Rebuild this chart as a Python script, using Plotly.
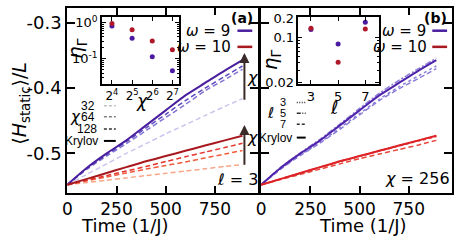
import plotly.graph_objects as go

W, H = 457, 241

# ---------------- data ----------------
time = [0, 100, 200, 300, 400, 500, 600, 700, 800, 890]

# panel (a), l = 3, omega = 9
a_w9_krylov = [-0.548, -0.522, -0.500, -0.480, -0.457, -0.434, -0.411, -0.392, -0.373, -0.357]
a_w9_chi128 = [-0.548, -0.523, -0.502, -0.482, -0.461, -0.440, -0.419, -0.400, -0.382, -0.366]
a_w9_chi64 = [-0.548, -0.524, -0.504, -0.485, -0.465, -0.445, -0.425, -0.404, -0.387, -0.371]
a_w9_chi32 = [-0.548, -0.532, -0.516, -0.500, -0.485, -0.470, -0.456, -0.442, -0.428, -0.416]
# panel (a), omega = 10
a_w10_krylov = [-0.548, -0.539, -0.530, -0.521, -0.512, -0.504, -0.496, -0.488, -0.480, -0.473]
a_w10_chi128 = [-0.548, -0.541, -0.534, -0.527, -0.520, -0.5125, -0.505, -0.498, -0.491, -0.4845]
a_w10_chi64 = [-0.548, -0.542, -0.536, -0.530, -0.524, -0.5185, -0.513, -0.507, -0.501, -0.4955]
a_w10_chi32 = [-0.548, -0.5445, -0.541, -0.5375, -0.534, -0.5305, -0.527, -0.5235, -0.520, -0.517]

# panel (b), chi = 256, omega = 9
b_w9_krylov = [-0.548, -0.522, -0.500, -0.480, -0.457, -0.434, -0.411, -0.392, -0.373, -0.357]
b_w9_l3 = [-0.548, -0.523, -0.502, -0.483, -0.461, -0.439, -0.417, -0.398, -0.381, -0.366]
b_w9_l5 = [-0.548, -0.521, -0.499, -0.478, -0.455, -0.431, -0.408, -0.388, -0.370, -0.354]
b_w9_l7 = [-0.548, -0.524, -0.503, -0.484, -0.463, -0.441, -0.419, -0.401, -0.385, -0.370]
# panel (b), omega = 10
b_w10_krylov = [-0.548, -0.539, -0.530, -0.521, -0.512, -0.504, -0.496, -0.488, -0.480, -0.473]
b_w10_l3 = [-0.548, -0.539, -0.530, -0.5215, -0.5125, -0.5045, -0.4965, -0.4885, -0.481, -0.474]
b_w10_l5 = [-0.548, -0.539, -0.530, -0.521, -0.512, -0.504, -0.496, -0.488, -0.480, -0.4725]
b_w10_l7 = [-0.548, -0.540, -0.532, -0.524, -0.516, -0.508, -0.501, -0.494, -0.487, -0.480]

# inset (a): eta_Gamma vs chi
inset_chi = [16, 32, 64, 128]
inset_a_w9 = [0.81, 0.37, 0.114, 0.046]
inset_a_w10 = [0.95, 0.63, 0.31, 0.178]

# inset (b): eta_Gamma vs l
inset_l = [3, 5, 7]
inset_b_w9 = [0.134, 0.079, 0.174]
inset_b_w10 = [0.140, 0.041, 0.136]

x_ticks = [0, 250, 500, 750]
y_ticks = [-0.3, -0.4, -0.5]
y_ticktext = ["-0.3", "-0.4", "-0.5"]

# ---------------- styles ----------------
FONT = "DejaVu Sans"
SMALL = "Liberation Sans"
P9 = "#4a1f9e"
P9_128 = "#5b48c0"
P9_64 = "#7f74d0"
P9_32 = "#cbc5ee"
R10 = "#a8191f"
R10_128 = "#e4312a"
R10_64 = "#f0593a"
R10_32 = "#f7a688"
PB = "#5024aa"
PB_L = "#8a7ed8"
RB = "#dc2328"
RB_L = "#e8463a"
DASH = "5px,3px"


def px(x):
    return x / W


def py(y):
    return 1 - y / H


fig = go.Figure()


def line(x, y, color, width, dash, xa, ya):
    fig.add_trace(go.Scatter(x=x, y=y, mode="lines", xaxis=xa, yaxis=ya,
                             line=dict(color=color, width=width, dash=dash, shape="spline", smoothing=0.6),
                             showlegend=False, hoverinfo="skip"))


# panel (a)
line(time, a_w9_chi32, P9_32, 1.5, DASH, "x", "y")
line(time, a_w9_chi64, P9_64, 1.5, DASH, "x", "y")
line(time, a_w9_chi128, P9_128, 1.5, DASH, "x", "y")
line(time, a_w9_krylov, P9, 2, "solid", "x", "y")
line(time, a_w10_chi32, R10_32, 1.5, DASH, "x", "y")
line(time, a_w10_chi64, R10_64, 1.5, DASH, "x", "y")
line(time, a_w10_chi128, R10_128, 1.5, DASH, "x", "y")
line(time, a_w10_krylov, R10, 2, "solid", "x", "y")

# panel (b)
line(time, b_w9_l3, PB_L, 1.5, "dot", "x2", "y2")
line(time, b_w9_l5, PB_L, 1.5, "6px,2px,2px,2px", "x2", "y2")
line(time, b_w9_l7, PB_L, 1.5, DASH, "x2", "y2")
line(time, b_w9_krylov, PB, 2, "solid", "x2", "y2")
line(time, b_w10_l3, RB_L, 1.5, "dot", "x2", "y2")
line(time, b_w10_l5, RB_L, 1.5, "6px,2px,2px,2px", "x2", "y2")
line(time, b_w10_l7, RB_L, 1.5, DASH, "x2", "y2")
line(time, b_w10_krylov, RB, 2, "solid", "x2", "y2")

# insets
for xs, ys, c, xa, ya in [(inset_chi, inset_a_w9, "#4a1aa0", "x3", "y3"),
                          (inset_chi, inset_a_w10, "#b0182a", "x3", "y3"),
                          (inset_l, inset_b_w9, "#4a1aa0", "x4", "y4"),
                          (inset_l, inset_b_w10, "#b0182a", "x4", "y4")]:
    fig.add_trace(go.Scatter(x=xs, y=ys, mode="markers", xaxis=xa, yaxis=ya,
                             marker=dict(color=c, size=5), showlegend=False, hoverinfo="skip"))

main_x = dict(range=[0, 970], tickvals=x_ticks, ticks="inside", ticklen=7, tickwidth=1.5,
              showline=True, linecolor="black", linewidth=2, mirror="ticks", showgrid=False,
              zeroline=False, tickfont=dict(family=FONT, size=17, color="black"), tickcolor="black")
main_y = dict(range=[-0.5605, -0.277], tickvals=y_ticks, ticktext=y_ticktext, ticks="inside",
              ticklen=8, tickwidth=1.5, showline=True, linecolor="black", linewidth=2, mirror="ticks",
              showgrid=False, zeroline=False, tickfont=dict(family=FONT, size=18, color="black"),
              tickcolor="black")

inset_common = dict(showline=True, linecolor="black", linewidth=1.5, mirror="ticks", ticks="inside",
                    ticklen=4, tickwidth=1, tickcolor="black", showgrid=False, zeroline=False,
                    tickfont=dict(family=FONT, size=13, color="black"))

fig.update_layout(
    width=W, height=H, margin=dict(l=0, r=0, t=0, b=0),
    paper_bgcolor="white", plot_bgcolor="white",
    xaxis=dict(domain=[px(63), px(256)], anchor="y", **main_x),
    yaxis=dict(domain=[py(196.7), py(2)], anchor="x", **main_y),
    xaxis2=dict(domain=[px(259), px(452)], anchor="y2", **main_x),
    yaxis2=dict(domain=[py(196.7), py(2)], anchor="x2", **{**main_y, "showticklabels": False}),
    xaxis3=dict(domain=[px(98), px(176)], anchor="y3", type="log",
                range=[1.054, 2.207], tickvals=[16, 32, 64, 128],
                ticktext=["2<sup>4</sup>", "2<sup>5</sup>", "2<sup>6</sup>", "2<sup>7</sup>"],
                **{**inset_common, "tickfont": dict(family=FONT, size=12, color="black")}),
    yaxis3=dict(domain=[py(82), py(11.7)], anchor="x3", type="log", range=[-1.70, 0.153],
                tickvals=[1, 0.1], ticktext=["10<sup>0</sup>", "10<sup>-1</sup>"],
                minor=dict(ticks="inside", ticklen=2, tickcolor="black",
                           tickvals=[0.02, 0.03, 0.04, 0.05, 0.06, 0.07, 0.08, 0.09,
                                     0.2, 0.3, 0.4, 0.5, 0.6, 0.7, 0.8, 0.9]),
                **inset_common),
    xaxis4=dict(domain=[px(296.7), px(378.3)], anchor="y4", range=[2.08, 8.02],
                tickvals=[3, 5, 7], **inset_common),
    yaxis4=dict(domain=[py(81.7), py(12)], anchor="x4", type="log", range=[-1.723, -0.684],
                tickvals=[0.2, 0.1, 0.02], ticktext=["0.2", "0.1", "0.02"],
                minor=dict(ticks="inside", ticklen=2, tickcolor="black",
                           tickvals=[0.03, 0.04, 0.05, 0.06, 0.07, 0.08, 0.09]),
                **inset_common),
)

annotations = []


def ann(x, y, text, size, xanchor="center", textangle=0, family=FONT):
    annotations.append(dict(x=px(x), y=py(y), xref="paper", yref="paper", text=text,
                            showarrow=False, xanchor=xanchor, yanchor="middle", textangle=textangle,
                            font=dict(family=family, size=size, color="black")))


# axis titles
ann(16, 102, "⟨<i>H</i><sub>static</sub>⟩/<i>L</i>", 19, textangle=-90)
ann(121, 231, "Time (1/J)", 18)
ann(362, 231, "Time (1/J)", 18)
ann(72, 45, "<i>η</i><sub>Γ</sub>", 20, textangle=-90)
ann(269, 57, "<i>η</i><sub>Γ</sub>", 20, textangle=-90)
ann(139, 100, "<i>χ</i>", 17)
ann(333, 107, "<i>ℓ</i>", 18)

# panel labels + omega legends
ann(240, 13, "<b>(a)</b>", 14)
ann(435, 13, "<b>(b)</b>", 14)
for xr in [230, 428]:
    ann(xr, 26, "<i>ω</i> = 9", 15, xanchor="right")
    ann(xr + 1, 43, "<i>ω</i> = 10", 15, xanchor="right")

shapes = []


def seg(x0, x1, y, color, width, dash="solid"):
    shapes.append(dict(type="line", xref="paper", yref="paper", x0=px(x0), x1=px(x1),
                       y0=py(y), y1=py(y), line=dict(color=color, width=width, dash=dash)))


seg(235, 250, 26, P9, 2.5)
seg(235, 250, 43, R10, 2.5)
seg(432, 447, 26, P9, 2.5)
seg(432, 447, 43, R10, 2.5)

# chi legend (a)
ann(93, 105, "32", 12, xanchor="right", family=SMALL)
ann(93, 116.5, "64", 12, xanchor="right", family=SMALL)
ann(95, 129.5, "128", 12, xanchor="right", family=SMALL)
ann(96, 142, "Krylov", 12, xanchor="right", family=SMALL)
ann(71, 116.5, "<i>χ</i>", 15)
seg(100, 112, 105, "#c0c0c0", 1.5, "3px,2px")
seg(100, 112, 116.5, "#808080", 1.5, "3px,2px")
seg(100, 112, 129.5, "#303030", 1.5, "3px,2px")
seg(100, 112, 142, "black", 2)

# l legend (b)
ann(281, 101.5, "3", 11, family=SMALL)
ann(281, 113, "5", 11, family=SMALL)
ann(281, 124.5, "7", 11, family=SMALL)
ann(292, 138.5, "Krylov", 12, xanchor="right", family=SMALL)
ann(268, 113, "<i>ℓ</i>", 15)
seg(295, 304, 101.5, "#303030", 1.5, "1px,1.5px")
seg(295, 304, 113, "#303030", 1.5, "4px,1.5px,1px,1.5px")
seg(295, 304, 124.5, "#303030", 1.5, "3px,2px")
seg(295, 304, 138.5, "black", 2)

# other labels
ann(250, 75, "<i>χ</i>", 16)
ann(250, 138, "<i>χ</i>", 16)
ann(235, 183, "<i>ℓ</i> = 3", 16)
ann(417, 182, "<i>χ</i> = 256", 16)

# arrows (data coords of panel a)
for tip, tail in [(-0.346, -0.420), (-0.4563, -0.5195)]:
    annotations.append(dict(x=900, y=tip, ax=900, ay=tail, xref="x", yref="y", axref="x", ayref="y",
                            showarrow=True, arrowhead=2, arrowsize=1, arrowwidth=2,
                            arrowcolor="#3a2a28", text=""))

fig.update_layout(annotations=annotations, shapes=shapes)
fig.write_html("out.html", config={"displayModeBar": False},
               post_script="document.body.style.margin='0';document.body.style.overflow='hidden';")
